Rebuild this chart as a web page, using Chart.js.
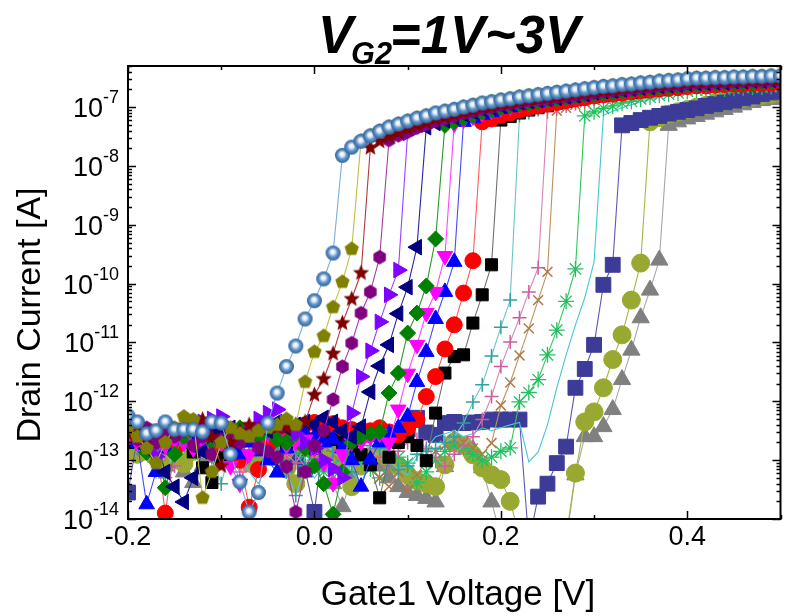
<!DOCTYPE html>
<html>
<head>
<meta charset="utf-8">
<script src="https://cdn.jsdelivr.net/npm/chart.js@4.4.1/dist/chart.umd.min.js"></script>
<style>
  html, body { margin: 0; padding: 0; background: #fff; overflow: hidden; }
  #wrap { width: 792px; height: 616px; overflow: hidden; }
  #c { display: block; }
</style>
</head>
<body>
<div id="wrap"><canvas id="c" width="792" height="616"></canvas></div>
<script>
// ---------------- DATA ----------------
// Gate1 voltage sweep [V]
const gateVoltage = [
  -0.20,-0.19,-0.18,-0.17,-0.16,-0.15,-0.14,-0.13,-0.12,-0.11,
  -0.10,-0.09,-0.08,-0.07,-0.06,-0.05,-0.04,-0.03,-0.02,-0.01,
   0.00, 0.01, 0.02, 0.03, 0.04, 0.05, 0.06, 0.07, 0.08, 0.09,
   0.10, 0.11, 0.12, 0.13, 0.14, 0.15, 0.16, 0.17, 0.18, 0.19,
   0.20, 0.21, 0.22, 0.23, 0.24, 0.25, 0.26, 0.27, 0.28, 0.29,
   0.30, 0.31, 0.32, 0.33, 0.34, 0.35, 0.36, 0.37, 0.38, 0.39,
   0.40, 0.41, 0.42, 0.43, 0.44, 0.45, 0.46, 0.47, 0.48, 0.49,
   0.50
];
// Drain current, stored as log10(I [A]), one array per V_G2 curve
const logId01 = [ // spheres
  -12.25,-12.35,-12.55,-12.50,-12.35,-12.48,-12.48,-12.48,-12.52,-12.35,
  -12.37,-12.90,-13.37,-13.88,-13.55,-12.37,-11.86,-11.41,-11.06,-10.60,
  -10.29,-9.92,-9.48,-7.82,-7.68,-7.58,-7.49,-7.41,-7.34,-7.29,
  -7.24,-7.19,-7.15,-7.10,-7.07,-7.04,-7.00,-6.97,-6.93,-6.91,
  -6.88,-6.86,-6.83,-6.81,-6.79,-6.77,-6.75,-6.73,-6.71,-6.69,
  -6.67,-6.65,-6.64,-6.62,-6.61,-6.59,-6.58,-6.56,-6.55,-6.54,
  -6.52,-6.51,-6.51,-6.50,-6.50,-6.49,-6.49,-6.48,-6.48,-6.47,
  -6.47];
const logId02 = [ // olive pentagons
  -12.45,-12.60,-12.80,-13.05,-12.70,-12.45,-12.26,-12.31,-13.64,-13.20,
  -12.70,-12.45,-12.55,-12.60,-12.50,-12.45,-12.40,-12.30,-12.40,-11.67,
  -11.16,-10.89,-10.40,-9.97,-9.41,-7.57,-7.48,-7.40,-7.33,-7.28,
  -7.23,-7.18,-7.14,-7.10,-7.06,-7.03,-6.99,-6.96,-6.93,-6.90,
  -6.87,-6.85,-6.82,-6.80,-6.78,-6.76,-6.74,-6.72,-6.70,-6.68,
  -6.66,-6.64,-6.63,-6.61,-6.60,-6.58,-6.57,-6.55,-6.54,-6.53,
  -6.51,-6.50,-6.50,-6.49,-6.49,-6.48,-6.48,-6.47,-6.47,-6.46,
  -6.46];
const logId03 = [ // dark red stars
  -12.55,-12.45,-12.60,-12.52,-12.40,-12.50,-12.42,-12.38,-12.31,-12.60,
  -13.10,-12.70,-12.50,-12.40,-12.48,-12.42,-12.45,-12.45,-12.40,-12.35,
  -11.89,-11.62,-11.19,-10.67,-10.26,-9.82,-7.69,-7.58,-7.50,-7.43,
  -7.37,-7.31,-7.26,-7.20,-7.17,-7.13,-7.09,-7.05,-7.01,-6.99,
  -6.95,-6.93,-6.90,-6.88,-6.86,-6.84,-6.82,-6.80,-6.78,-6.76,
  -6.74,-6.72,-6.71,-6.69,-6.67,-6.65,-6.64,-6.62,-6.61,-6.60,
  -6.58,-6.57,-6.57,-6.56,-6.56,-6.55,-6.55,-6.54,-6.54,-6.53,
  -6.53];
const logId04 = [ // purple hexagons
  -12.50,-12.65,-12.45,-12.70,-12.55,-12.60,-12.50,-12.75,-12.60,-12.90,
  -12.65,-12.55,-12.70,-12.60,-12.79,-12.85,-12.95,-13.11,-13.88,-13.20,
  -12.75,-12.50,-11.97,-11.41,-11.01,-10.50,-10.14,-9.55,-7.56,-7.48,
  -7.42,-7.35,-7.29,-7.23,-7.19,-7.15,-7.10,-7.07,-7.02,-7.00,
  -6.96,-6.94,-6.91,-6.89,-6.87,-6.85,-6.83,-6.81,-6.79,-6.77,
  -6.75,-6.73,-6.72,-6.70,-6.68,-6.66,-6.65,-6.63,-6.62,-6.61,
  -6.59,-6.58,-6.58,-6.57,-6.57,-6.56,-6.56,-6.55,-6.55,-6.54,
  -6.54];
const logId05 = [ // violet right triangles
  -12.30,-12.50,-12.70,-12.94,-12.60,-12.45,-12.50,-12.40,-12.35,-12.30,
  -12.26,-12.45,-12.60,-12.55,-12.30,-12.20,-12.14,-12.40,-12.55,-12.70,
  -12.80,-13.00,-13.15,-13.30,-12.20,-11.58,-11.14,-10.65,-10.19,-9.77,
  -7.44,-7.36,-7.30,-7.24,-7.19,-7.15,-7.10,-7.07,-7.02,-7.00,
  -6.95,-6.93,-6.90,-6.88,-6.86,-6.84,-6.82,-6.80,-6.78,-6.76,
  -6.74,-6.72,-6.70,-6.68,-6.67,-6.65,-6.64,-6.62,-6.61,-6.60,
  -6.58,-6.57,-6.57,-6.56,-6.56,-6.55,-6.55,-6.54,-6.54,-6.53,
  -6.53];
const logId06 = [ // navy left triangles
  -12.45,-12.60,-12.80,-12.65,-13.20,-13.45,-13.71,-13.30,-12.85,-12.60,
  -12.50,-12.45,-12.60,-12.55,-12.40,-12.50,-12.35,-12.45,-12.40,-12.35,
  -12.40,-12.28,-12.35,-12.50,-12.60,-12.43,-11.84,-11.40,-11.04,-10.51,
  -10.06,-9.38,-7.34,-7.27,-7.22,-7.17,-7.12,-7.08,-7.03,-7.01,
  -6.97,-6.95,-6.92,-6.90,-6.88,-6.86,-6.84,-6.82,-6.80,-6.78,
  -6.75,-6.73,-6.72,-6.70,-6.69,-6.67,-6.66,-6.64,-6.63,-6.62,
  -6.60,-6.59,-6.59,-6.58,-6.58,-6.56,-6.56,-6.55,-6.55,-6.54,
  -6.54];
const logId07 = [ // green diamonds
  -12.50,-12.60,-12.87,-12.70,-13.47,-12.90,-12.60,-12.45,-12.55,-12.70,
  -12.60,-12.50,-12.45,-12.55,-12.60,-12.50,-12.65,-12.70,-12.55,-12.80,
  -13.10,-13.40,-13.92,-13.20,-12.70,-12.60,-12.55,-12.52,-11.86,-11.52,
  -10.84,-10.50,-10.04,-9.24,-7.31,-7.25,-7.19,-7.14,-7.08,-7.05,
  -7.01,-6.98,-6.95,-6.93,-6.91,-6.88,-6.86,-6.84,-6.82,-6.80,
  -6.78,-6.76,-6.75,-6.73,-6.71,-6.69,-6.68,-6.66,-6.65,-6.64,
  -6.62,-6.61,-6.61,-6.60,-6.60,-6.59,-6.59,-6.58,-6.58,-6.57,
  -6.57];
const logId08 = [ // magenta down triangles
  -12.55,-12.70,-12.60,-12.80,-12.75,-12.65,-12.70,-12.80,-12.79,-12.60,
  -12.70,-13.10,-13.40,-12.90,-12.65,-12.55,-12.60,-12.75,-12.70,-12.65,
  -12.80,-13.05,-13.39,-12.90,-12.70,-12.69,-12.60,-12.55,-12.70,-12.14,
  -11.53,-11.04,-10.50,-10.14,-9.53,-7.28,-7.21,-7.16,-7.10,-7.06,
  -7.02,-6.99,-6.95,-6.92,-6.90,-6.87,-6.85,-6.83,-6.81,-6.79,
  -6.77,-6.75,-6.74,-6.72,-6.70,-6.68,-6.67,-6.65,-6.64,-6.63,
  -6.61,-6.60,-6.60,-6.59,-6.58,-6.57,-6.57,-6.56,-6.56,-6.55,
  -6.55];
const logId09 = [ // blue up triangles
  -12.50,-12.70,-13.75,-13.20,-12.80,-12.65,-12.55,-12.60,-12.70,-12.55,
  -12.60,-12.75,-12.90,-12.70,-12.85,-13.00,-13.21,-12.80,-12.65,-12.55,
  -12.60,-12.70,-12.65,-12.80,-13.00,-13.45,-12.99,-12.70,-12.55,-12.45,
  -12.26,-11.67,-11.16,-10.60,-10.14,-9.63,-7.25,-7.19,-7.13,-7.08,
  -7.03,-7.00,-6.96,-6.93,-6.91,-6.88,-6.86,-6.84,-6.82,-6.80,
  -6.78,-6.76,-6.75,-6.73,-6.71,-6.69,-6.68,-6.66,-6.65,-6.64,
  -6.62,-6.61,-6.61,-6.60,-6.60,-6.59,-6.59,-6.58,-6.58,-6.57,
  -6.57];
const logId10 = [ // red circles
  -12.60,-12.65,-12.55,-12.70,-13.90,-12.80,-12.60,-12.65,-12.70,-12.75,
  -12.65,-12.80,-13.00,-13.80,-13.16,-12.75,-12.60,-12.55,-12.50,-12.40,
  -12.36,-12.40,-12.38,-12.45,-12.48,-12.55,-12.50,-12.45,-12.52,-12.57,
  -12.45,-12.31,-11.92,-11.58,-11.11,-10.70,-10.16,-9.61,-7.25,-7.20,
  -7.14,-7.10,-7.05,-7.01,-6.98,-6.95,-6.92,-6.89,-6.86,-6.84,
  -6.81,-6.79,-6.78,-6.76,-6.74,-6.72,-6.71,-6.69,-6.68,-6.67,
  -6.65,-6.64,-6.64,-6.63,-6.62,-6.61,-6.61,-6.60,-6.60,-6.59,
  -6.59];
const logId11 = [ // black squares
  -12.70,-12.55,-12.60,-12.75,-12.65,-12.80,-12.70,-12.86,-13.13,-13.38,
  -12.95,-12.75,-12.65,-12.60,-12.70,-12.65,-12.55,-12.70,-12.60,-12.65,
  -12.80,-12.57,-12.65,-12.70,-12.77,-12.91,-13.08,-13.64,-12.95,-12.70,
  -12.60,-12.75,-13.01,-12.20,-11.52,-11.24,-11.21,-10.67,-10.19,-9.68,
  -7.22,-7.16,-7.10,-7.05,-7.01,-6.97,-6.93,-6.90,-6.87,-6.84,
  -6.82,-6.80,-6.78,-6.76,-6.75,-6.73,-6.71,-6.70,-6.68,-6.67,
  -6.65,-6.64,-6.64,-6.63,-6.62,-6.62,-6.61,-6.60,-6.60,-6.59,
  -6.59];
const logId12 = [ // teal plus
  -12.65,-12.80,-12.55,-12.90,-13.30,-12.75,-12.60,-12.85,-12.70,-12.95,
  -13.40,-12.80,-12.70,-12.60,-12.65,-12.75,-12.85,-13.20,-13.60,-13.10,
  -12.80,-12.70,-12.85,-13.00,-13.20,-12.90,-12.75,-12.80,-13.00,-13.16,
  -13.10,-12.90,-12.85,-12.80,-12.70,-12.60,-12.37,-12.01,-11.72,-11.23,
  -10.74,-10.28,-7.14,-7.09,-7.04,-7.00,-6.96,-6.92,-6.89,-6.86,
  -6.83,-6.81,-6.80,-6.78,-6.76,-6.74,-6.73,-6.71,-6.70,-6.69,
  -6.67,-6.66,-6.66,-6.64,-6.64,-6.63,-6.63,-6.62,-6.62,-6.61,
  -6.61];
const logId13 = [ // pink
  -12.70,-12.55,-12.80,-12.65,-12.90,-13.10,-12.75,-12.60,-12.70,-12.85,
  -12.80,-12.95,-13.20,-12.85,-12.70,-12.60,-12.75,-12.90,-13.05,-12.80,
  -12.65,-12.70,-12.85,-12.75,-12.60,-12.70,-12.80,-12.95,-13.10,-12.85,
  -12.70,-12.65,-12.80,-12.95,-13.10,-12.90,-12.75,-12.60,-12.31,-11.92,
  -11.41,-10.99,-10.58,-10.14,-9.73,-7.08,-7.03,-6.98,-6.94,-6.90,
  -6.86,-6.83,-6.81,-6.78,-6.77,-6.74,-6.73,-6.71,-6.69,-6.68,
  -6.66,-6.65,-6.65,-6.64,-6.64,-6.63,-6.63,-6.62,-6.62,-6.61,
  -6.61];
const logId14 = [ // tan crosses
  -12.45,-12.60,-12.75,-12.50,-12.65,-12.80,-12.55,-12.70,-12.85,-12.90,
  -12.87,-13.05,-12.75,-12.60,-12.55,-12.70,-12.85,-13.00,-12.80,-12.70,
  -12.60,-12.75,-12.90,-12.80,-12.65,-12.95,-13.10,-13.30,-13.45,-13.20,
  -13.50,-13.25,-13.00,-12.85,-12.75,-12.65,-12.70,-12.80,-12.90,-12.71,
  -12.07,-11.68,-11.22,-10.76,-10.28,-9.80,-7.06,-7.01,-6.96,-6.92,
  -6.88,-6.85,-6.83,-6.80,-6.78,-6.75,-6.74,-6.71,-6.70,-6.68,
  -6.66,-6.65,-6.65,-6.64,-6.64,-6.63,-6.63,-6.62,-6.62,-6.61,
  -6.61];
const logId15 = [ // green asterisks
  -12.60,-12.65,-12.70,-12.60,-12.75,-12.85,-12.70,-12.65,-12.80,-12.90,
  -12.75,-12.70,-12.85,-12.95,-12.80,-12.90,-13.00,-13.04,-12.85,-12.90,
  -13.00,-13.20,-13.10,-12.95,-12.85,-13.00,-13.15,-13.30,-13.10,-12.95,
  -13.05,-13.38,-13.20,-13.00,-12.85,-12.75,-12.80,-12.90,-13.00,-12.95,
  -12.85,-12.79,-12.01,-11.85,-11.63,-11.21,-10.79,-10.30,-9.75,-7.15,
  -7.08,-7.02,-6.98,-6.93,-6.90,-6.86,-6.83,-6.80,-6.78,-6.76,
  -6.73,-6.71,-6.71,-6.69,-6.69,-6.68,-6.67,-6.66,-6.66,-6.65,
  -6.65];
const logId16 = [ // cyan line
  -12.55,-12.70,-12.85,-13.30,-12.90,-12.65,-12.75,-12.60,-12.80,-13.00,
  -12.85,-12.70,-12.90,-13.20,-13.40,-13.05,-12.80,-12.75,-12.90,-13.10,
  -13.30,-13.10,-12.85,-12.95,-13.20,-13.40,-13.00,-12.85,-12.90,-13.15,
  -13.25,-12.95,-12.80,-12.60,-12.55,-12.50,-12.60,-12.55,-12.45,-12.50,
  -12.45,-12.40,-12.36,-13.03,-12.86,-12.40,-11.77,-11.21,-10.70,-10.24,
  -9.63,-7.14,-7.07,-7.01,-6.96,-6.91,-6.87,-6.83,-6.80,-6.78,
  -6.75,-6.73,-6.72,-6.70,-6.69,-6.68,-6.67,-6.66,-6.66,-6.65,
  -6.65];
const logId17 = [ // indigo squares
  -13.55,-12.62,-12.66,-12.60,-12.64,-12.68,-12.62,-12.60,-12.66,-12.64,
  -13.00,-12.62,-12.60,-12.62,-12.65,-12.69,-12.72,-12.77,-12.94,-13.16,
  -13.88,-12.60,-12.55,-12.58,-12.55,-12.57,-12.55,-12.56,-12.55,-12.54,
  -12.48,-12.28,-12.53,-12.57,-12.37,-12.35,-12.37,-12.36,-12.35,-12.31,
  -12.31,-12.31,-12.31,-14.40,-13.62,-13.40,-13.05,-12.77,-11.77,-11.45,
  -11.04,-10.02,-9.68,-7.31,-7.27,-7.22,-7.18,-7.15,-7.11,-7.08,
  -7.05,-7.02,-6.98,-6.95,-6.92,-6.89,-6.85,-6.82,-6.78,-6.75,
  -6.72];
const logId18 = [ // olive-green circles
  -12.75,-12.90,-12.85,-12.95,-13.00,-12.92,-13.06,-12.85,-12.80,-12.70,
  -12.75,-12.85,-12.95,-13.05,-12.90,-12.80,-12.95,-13.15,-13.40,-12.65,
  -12.85,-12.80,-12.86,-13.05,-13.45,-13.10,-12.95,-12.90,-13.00,-13.10,
  -13.25,-13.35,-13.40,-13.45,-13.08,-12.69,-12.75,-12.91,-13.13,-13.25,
  -13.33,-13.70,-14.30,-14.40,-14.40,-14.40,-14.40,-14.30,-13.22,-12.35,
  -12.18,-11.77,-11.29,-10.87,-10.28,-9.65,-7.25,-7.18,-7.12,-7.08,
  -7.04,-7.00,-6.97,-6.93,-6.91,-6.88,-6.85,-6.83,-6.80,-6.78,
  -6.76];
const logId19 = [ // gray triangles
  -12.80,-12.74,-12.85,-12.95,-13.10,-13.05,-13.20,-13.38,-13.10,-12.95,
  -12.85,-12.90,-13.00,-12.95,-12.85,-12.90,-13.00,-12.95,-12.88,-12.85,
  -12.82,-13.10,-13.40,-13.79,-13.30,-13.05,-12.95,-13.10,-13.30,-13.45,
  -13.55,-13.60,-13.65,-13.71,-13.11,-12.65,-12.77,-12.82,-13.13,-13.71,
  -14.30,-14.40,-14.40,-14.40,-14.40,-14.40,-14.40,-14.40,-13.25,-12.60,
  -12.60,-12.43,-12.14,-11.63,-11.13,-10.58,-10.11,-9.60,-7.31,-7.25,
  -7.20,-7.16,-7.12,-7.08,-7.04,-7.00,-6.96,-6.92,-6.89,-6.87,
  -6.85];

// Axis tick values
const xTickLabels = [-0.2, 0.0, 0.2, 0.4];
const xMinorTicks = [-0.1, 0.1, 0.3, 0.5];
const yDecadeExponents = [-14, -13, -12, -11, -10, -9, -8, -7];

// ---------------- MARKER SHAPES ----------------
function makeSphere(r) {
  const s = Math.ceil(2 * r + 2), c = document.createElement('canvas');
  c.width = c.height = s;
  const g = c.getContext('2d'), cx = s / 2, cy = s / 2;
  const gr = g.createRadialGradient(cx - 0.5, cy - 1.5, 0.3, cx, cy, r);
  gr.addColorStop(0, '#ffffff');
  gr.addColorStop(0.28, '#dce8f5');
  gr.addColorStop(0.55, '#6a9bcc');
  gr.addColorStop(1, '#2c5e98');
  g.fillStyle = gr;
  g.beginPath(); g.arc(cx, cy, r, 0, Math.PI * 2); g.fill();
  return c;
}
function makePoly(n, r, color, starInner) {
  const s = Math.ceil(2 * r + 2), c = document.createElement('canvas');
  c.width = c.height = s;
  const g = c.getContext('2d'), cx = s / 2, cy = s / 2;
  g.fillStyle = color;
  g.beginPath();
  const steps = starInner ? n * 2 : n;
  for (let k = 0; k < steps; k++) {
    const a = -Math.PI / 2 + k * 2 * Math.PI / steps;
    const rr = starInner && (k % 2 === 1) ? r * starInner : r;
    const px = cx + rr * Math.cos(a), py = cy + rr * Math.sin(a);
    if (k === 0) g.moveTo(px, py); else g.lineTo(px, py);
  }
  g.closePath(); g.fill();
  return c;
}
const sphereImg = makeSphere(7.5);
const pentagonImg = makePoly(5, 7.5, '#808000');
const starImg = makePoly(5, 8.5, '#800000', 0.45);
const hexImg = makePoly(6, 7.2, '#800080');

// ---------------- DATASETS ----------------
function curve(label, logs, o) {
  return {
    label,
    data: gateVoltage.map((v, i) => ({ x: v, y: Math.pow(10, logs[i]) })),
    borderColor: o.line,
    borderWidth: 1.1,
    pointStyle: o.style,
    pointRadius: o.r,
    pointRotation: o.rot || 0,
    pointBackgroundColor: o.fill,
    pointBorderColor: o.fill,
    pointBorderWidth: o.bw || 1,
    tension: 0,
    clip: 0
  };
}
const datasets = [
  curve('curve 1', logId01, { style: sphereImg, r: 7.5, fill: '#3a6ea8', line: '#78b0dc' }),
  curve('curve 2', logId02, { style: pentagonImg, r: 7.5, fill: '#808000', line: '#c0c040' }),
  curve('curve 3', logId03, { style: starImg, r: 8, fill: '#800000', line: '#b03a3a' }),
  curve('curve 4', logId04, { style: hexImg, r: 7, fill: '#800080', line: '#a83ca8' }),
  curve('curve 5', logId05, { style: 'triangle', rot: 90, r: 9, fill: '#8000ff', line: '#9a40ff' }),
  curve('curve 6', logId06, { style: 'triangle', rot: -90, r: 9, fill: '#000080', line: '#2828a0' }),
  curve('curve 7', logId07, { style: 'rectRot', r: 8, fill: '#008000', line: '#2a9a2a' }),
  curve('curve 8', logId08, { style: 'triangle', rot: 180, r: 9, fill: '#ff00ff', line: '#ff44ff' }),
  curve('curve 9', logId09, { style: 'triangle', r: 9, fill: '#0000ff', line: '#4646ff' }),
  curve('curve 10', logId10, { style: 'circle', r: 8, fill: '#ff0000', line: '#ff5a5a' }),
  curve('curve 11', logId11, { style: 'rect', r: 8.5, fill: '#000000', line: '#707070' }),
  curve('curve 12', logId12, { style: 'cross', r: 7, fill: '#2fa0a0', line: '#6cc6c6', bw: 1.5 }),
  curve('curve 13', logId13, { style: 'cross', r: 7, fill: '#d05c9c', line: '#d884b4', bw: 1.5 }),
  curve('curve 14', logId14, { style: 'crossRot', r: 7, fill: '#b07848', line: '#c0905c', bw: 1.5 }),
  curve('curve 15', logId15, { style: 'star', r: 8, fill: '#20c060', line: '#30c858', bw: 1.3 }),
  curve('curve 16', logId16, { style: 'circle', r: 0, fill: '#40c8d8', line: '#40c8d8' }),
  curve('curve 17', logId17, { style: 'rect', r: 10.5, fill: '#3c3c98', line: '#5a5ab4' }),
  curve('curve 18', logId18, { style: 'circle', r: 9, fill: '#98a830', line: '#a8b444' }),
  curve('curve 19', logId19, { style: 'triangle', r: 10, fill: '#808080', line: '#a8a8a8' })
];

// ---------------- DECORATIONS (frame, ticks, texts) ----------------
const FONT = "'Liberation Sans', Arial, sans-serif";
const decorations = {
  id: 'decorations',
  afterDatasetsDraw(chart) {
    const { ctx, chartArea: a, scales: { x, y } } = chart;
    ctx.save();
    ctx.strokeStyle = '#000';
    ctx.lineWidth = 1.5;
    const xt = (v, len) => {
      const p = Math.round(x.getPixelForValue(v)) + 0.5;
      ctx.beginPath();
      ctx.moveTo(p, a.bottom); ctx.lineTo(p, a.bottom - len);
      ctx.moveTo(p, a.top); ctx.lineTo(p, a.top + len);
      ctx.stroke();
    };
    xTickLabels.forEach(v => xt(v, 8));
    xMinorTicks.forEach(v => xt(v, 4));
    yDecadeExponents.forEach(e => {
      for (let m = 1; m <= 9; m++) {
        const val = m * Math.pow(10, e);
        if (val > y.max * 1.0001) break;
        const p = Math.round(y.getPixelForValue(val)) + 0.5;
        const len = m === 1 ? 8 : 4;
        ctx.beginPath();
        ctx.moveTo(a.left, p); ctx.lineTo(a.left + len, p);
        ctx.moveTo(a.right, p); ctx.lineTo(a.right - len, p);
        ctx.stroke();
      }
    });
    ctx.lineWidth = 2;
    ctx.strokeRect(a.left, a.top, a.right - a.left, a.bottom - a.top);
    ctx.restore();
  },
  afterDraw(chart) {
    const { ctx, chartArea: a, scales: { x, y } } = chart;
    ctx.save();
    ctx.fillStyle = '#000';
    // x tick labels
    ctx.font = `27px ${FONT}`;
    ctx.textAlign = 'center';
    ctx.textBaseline = 'middle';
    xTickLabels.forEach(v => ctx.fillText(v.toFixed(1), x.getPixelForValue(v), a.bottom + 19));
    // x axis title
    ctx.font = `35px ${FONT}`;
    ctx.fillText('Gate1 Voltage [V]', 458, 595);
    // y tick labels: 10^n
    const rightEdge = 119;
    yDecadeExponents.forEach(e => {
      const p = y.getPixelForValue(Math.pow(10, e));
      const sup = String(e);
      ctx.font = `18px ${FONT}`;
      const ws = ctx.measureText(sup).width;
      ctx.font = `27px ${FONT}`;
      ctx.textAlign = 'right';
      ctx.textBaseline = 'alphabetic';
      ctx.fillText('10', rightEdge - ws, p + 10);
      ctx.font = `18px ${FONT}`;
      ctx.textAlign = 'left';
      ctx.fillText(sup, rightEdge - ws, p - 4);
    });
    // y axis title
    ctx.save();
    ctx.translate(31, 315);
    ctx.rotate(-Math.PI / 2);
    ctx.font = `34px ${FONT}`;
    ctx.textAlign = 'center';
    ctx.textBaseline = 'middle';
    ctx.fillText('Drain Current [A]', 0, 0);
    ctx.restore();
    // chart title: V_G2=1V~3V
    const big = `italic bold 53px ${FONT}`, small = `italic bold 31px ${FONT}`;
    ctx.font = big; const w1 = ctx.measureText('V').width;
    ctx.font = small; const w2 = ctx.measureText('G2').width;
    ctx.font = big; const w3 = ctx.measureText('=1V~3V').width;
    const sx = 262 / (w1 + w2 + w3 - 4);
    ctx.save();
    ctx.translate(318, 0);
    ctx.scale(sx, 1);
    ctx.textAlign = 'left';
    ctx.textBaseline = 'alphabetic';
    ctx.font = big; ctx.fillText('V', 0, 53);
    ctx.font = small; ctx.fillText('G2', w1 - 2, 64);
    ctx.font = big; ctx.fillText('=1V~3V', w1 + w2 - 4, 53);
    ctx.restore();
    ctx.restore();
  }
};

// ---------------- CHART ----------------
new Chart(document.getElementById('c'), {
  type: 'line',
  data: { datasets },
  options: {
    responsive: false,
    animation: false,
    devicePixelRatio: 1,
    layout: { padding: { top: 66, right: 2, left: 128, bottom: 97 } },
    plugins: { legend: { display: false }, tooltip: { enabled: false }, title: { display: false } },
    scales: {
      x: { type: 'linear', min: -0.2, max: 0.5, display: false },
      y: { type: 'logarithmic', min: 1e-14, max: 5e-7, display: false }
    }
  },
  plugins: [decorations]
});
</script>
</body>
</html>
